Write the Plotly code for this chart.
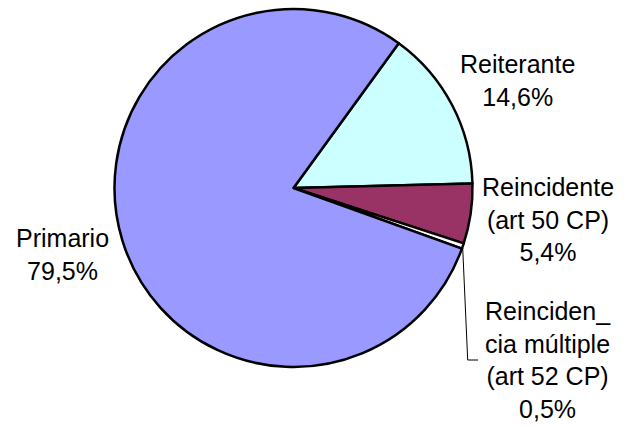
import plotly.graph_objects as go

# Datos (orden de dibujo, sentido horario)
categorias = ["Reiterante", "Reincidente<br>(art 50 CP)",
              "Reinciden_<br>cia múltiple<br>(art 52 CP)", "Primario"]
porcentajes = [14.6, 5.4, 0.5, 79.5]
colores = ["#CCFFFF", "#993366", "#FFFFFF", "#9999FF"]

# Posición de las etiquetas (px dentro de la figura 636x428)
pos_etiquetas = [(517, 80), (548, 220), (548, 360), (62, 254)]

W, H = 636, 428

fig = go.Figure()
fig.add_trace(go.Pie(
    labels=categorias,
    values=porcentajes,
    sort=False,
    direction="clockwise",
    rotation=36,
    marker=dict(colors=colores, line=dict(color="black", width=2.5)),
    textinfo="none",
    hoverinfo="label+percent",
    showlegend=False,
    domain=dict(x=[114.5 / W, 472.5 / W], y=[1 - 367 / H, 1 - 9 / H]),
))

# Etiquetas de texto con coma decimal
for cat, val, (px, py) in zip(categorias, porcentajes, pos_etiquetas):
    fig.add_annotation(
        x=px / W, y=1 - py / H, xref="paper", yref="paper",
        text=f"{cat}<br>{val:.1f}%".replace(".", ","),
        showarrow=False, align="center",
        xanchor="center", yanchor="middle",
        font=dict(size=25, color="black"),
    )

# Línea guía para la porción pequeña
fig.add_shape(type="path", xref="paper", yref="paper",
              path=f"M {462.7 / W} {1 - 248 / H} L {467.7 / W} {1 - 360 / H} L {478 / W} {1 - 360 / H}",
              line=dict(color="black", width=1))

fig.update_layout(
    width=W, height=H,
    margin=dict(l=0, r=0, t=0, b=0),
    paper_bgcolor="white",
    plot_bgcolor="white",
    font=dict(family="Liberation Sans, Arial, sans-serif"),
)

fig.write_html("out.html", config={"displayModeBar": False},
               post_script="document.body.style.margin='0';")
